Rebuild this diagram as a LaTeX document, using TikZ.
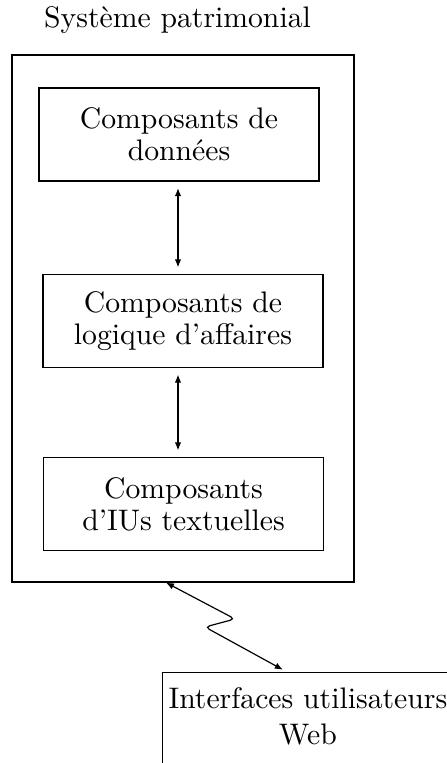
\documentclass[tikz,border=0pt]{standalone}
\usetikzlibrary{arrows.meta}
% one drawing unit, used for node sizes
\newcommand\pxu{0.3367pt}
\begin{document}
\begin{tikzpicture}[x=0.3367pt,y=-0.3367pt,
  layer/.style={draw, align=center, font=\fontsize{10}{10.8}\selectfont,
    minimum width=280*\pxu, minimum height=93*\pxu, inner sep=0pt},
  tip/.tip={Latex[length=2.7pt,width=2.2pt]},
  link/.style={tip-tip, shorten <=2.2pt, shorten >=2.2pt},
]
\clip (0,0) rectangle (447,763);

% legacy system with its three component layers
\node[anchor=base] (title) at (177.5,28) {Système patrimonial};
\node[draw, minimum width=342*\pxu, minimum height=527*\pxu, inner sep=0pt] (sys) at (183,318.5) {};
\node[layer] (data)  at (179,134.5) {Composants de\\données};
\node[layer] (logic) at (183,321)   {Composants de\\logique d'affaires};
\node[layer] (tui)   at (183.5,504) {Composants\\d'IUs textuelles};

% web front end (runs past the page edge)
\node[draw, anchor=north west, align=center, inner xsep=2pt, inner ysep=5pt] (web)
  at (162,672) {Interfaces utilisateurs\\Web\rule[-8pt]{0pt}{0pt}};

% links between layers
\coordinate (ax) at (178,0);
\draw[link] (data.south -| ax) -- (logic.north -| ax);
\draw[link] (logic.south -| ax) -- (tui.north -| ax);

% zigzag link to the web interfaces
\coordinate (zs) at (166,0);
\coordinate (ze) at (287,0);
\draw[tip-tip, shorten >=1.6pt, rounded corners=1.6pt]
  (sys.south -| zs) -- (235,619) -- (205,627) -- (web.north -| ze);
\end{tikzpicture}
\end{document}
